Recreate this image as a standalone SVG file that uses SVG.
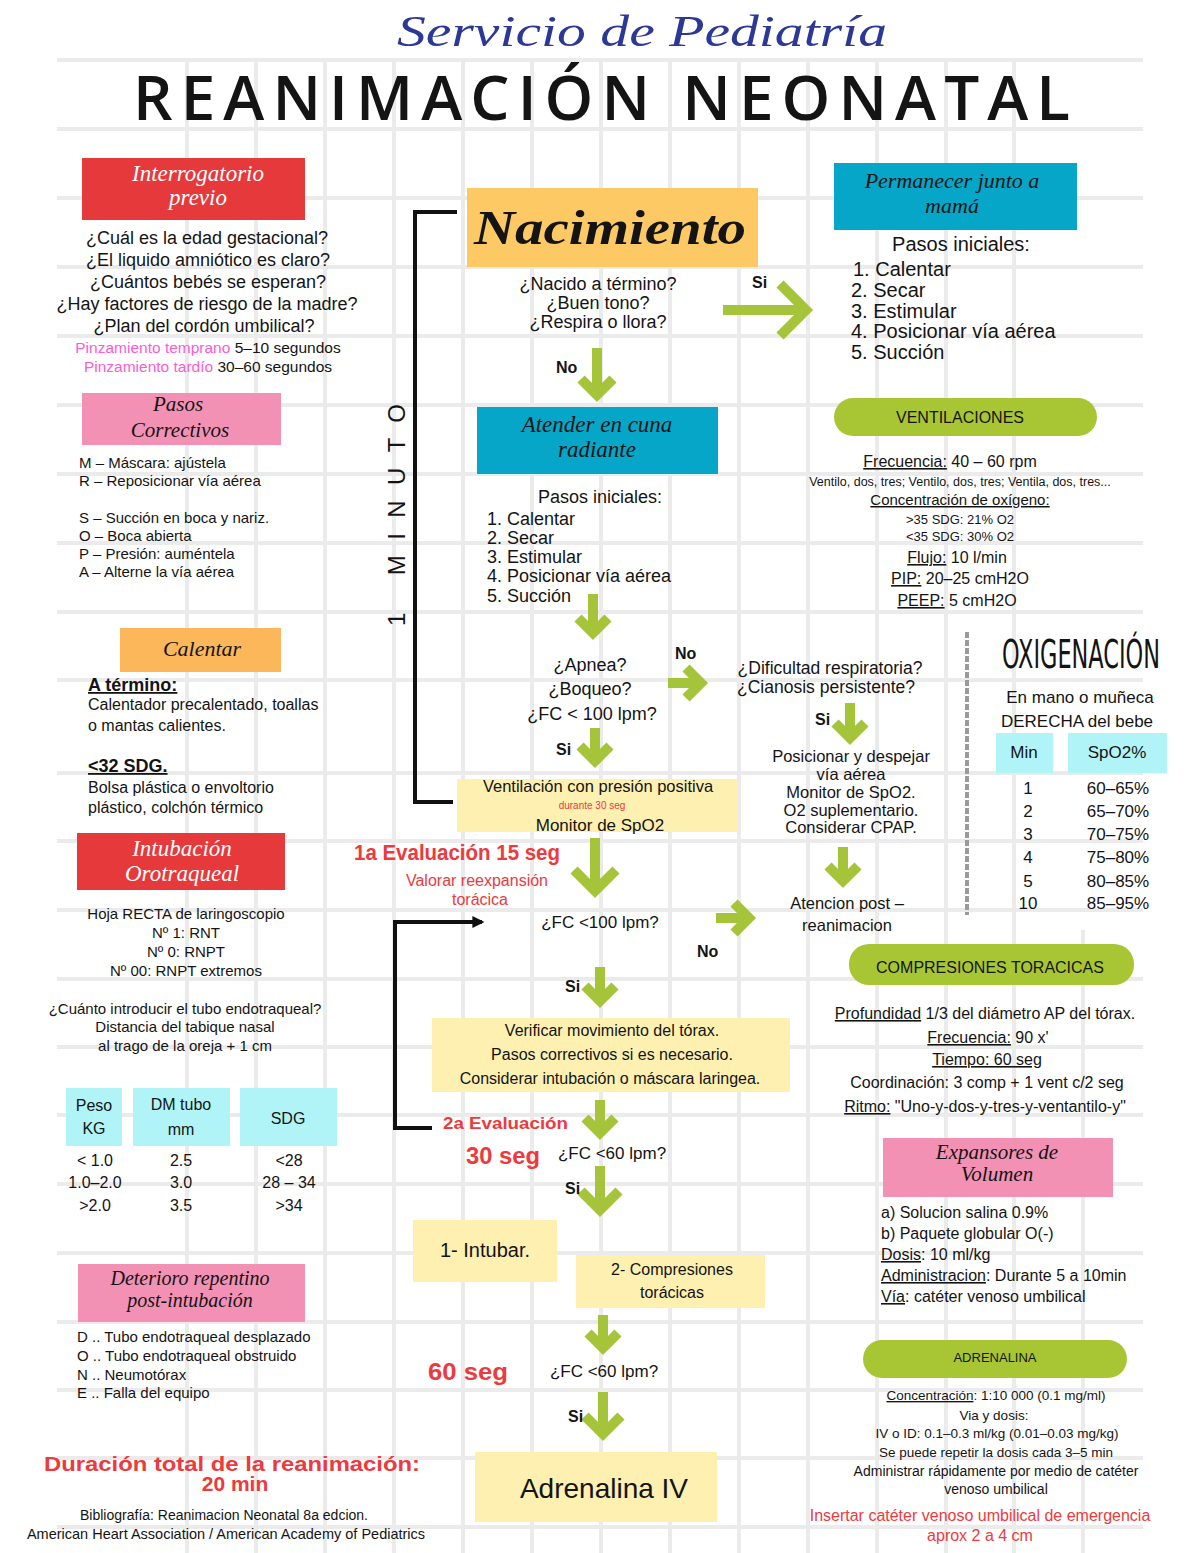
<svg xmlns="http://www.w3.org/2000/svg" width="1200" height="1553" viewBox="0 0 1200 1553">
<defs>
<style>
text{font-family:"Liberation Sans",Arial,sans-serif;fill:#141414}
.c{text-anchor:middle}
.cur{font-family:"Liberation Serif","DejaVu Serif",serif;font-style:italic}
.w{fill:#fff}
.b{font-weight:bold}
.red{fill:#ec3a3e}
.u{text-decoration:underline}
.pk{fill:#ff5ccf}
.grid{stroke:#ebebeb;stroke-width:4;fill:none}
.ga{stroke:#a6c43a;fill:none;stroke-width:10;stroke-linejoin:miter}
.bk{stroke:#111;fill:none;stroke-width:4}
.redbox{fill:#e6393c}
.pinkbox{fill:#f391b4}
.bluebox{fill:#05a6c8}
.yel{fill:#fdf0b1}
.cy{fill:#b0f4f7}
.pill{fill:#a8c634}
</style>
<marker id="ah" viewBox="0 0 10 10" refX="8" refY="5" markerWidth="3" markerHeight="3" orient="auto"><path d="M0 0L10 5L0 10Z" fill="#111"/></marker>
</defs>
<rect width="1200" height="1553" fill="#fff"/>
<g id="grid">
<path class="grid" d="M57 60H1143M57 129H1143M57 198H1143M57 267H1143M57 336H1143M57 405H1143M57 474H1143M57 543H1143M57 612H1143M57 680H1143M57 773H1143M57 841H1143M57 910H1143M57 979H1143M57 1047H1143M57 1115H1143M57 1184H1143M57 1253H1143M57 1322H1143M57 1390H1143M57 1458H1143M57 1527H1143"/>
<path class="grid" d="M187 60V1553M256 60V1553M325 60V1553M394 60V1553M463 60V1553M532 60V1553M601 60V1553M670 60V1553M739 60V1553M808 60V1553M877 60V1553M946 60V1553M1014 60V1553M1083 930V1553"/>
</g>
<g id="header">
<text class="cur c" x="642" y="46" font-size="44" style="fill:#2c3896" textLength="490" lengthAdjust="spacingAndGlyphs">Servicio de Pediatría</text>
<text x="133" y="120" font-size="62" font-weight="600" textLength="937" lengthAdjust="spacing" style="font-family:'Open Sans','Liberation Sans',sans-serif">REANIMACIÓN NEONATAL</text>
</g>
<g id="interrogatorio">
<rect class="redbox" x="82" y="158" width="223" height="62"/>
<text class="cur c w" x="198" y="181" font-size="23">Interrogatorio</text>
<text class="cur c w" x="198" y="205" font-size="23">previo</text>
<text class="c" x="207" y="244" font-size="18">¿Cuál es la edad gestacional?</text>
<text class="c" x="208" y="266" font-size="18">¿El liquido amniótico es claro?</text>
<text class="c" x="208" y="288" font-size="18">¿Cuántos bebés se esperan?</text>
<text class="c" x="207" y="310" font-size="18">¿Hay factores de riesgo de la madre?</text>
<text class="c" x="204" y="332" font-size="18">¿Plan del cordón umbilical?</text>
<text class="c" x="208" y="353" font-size="15.5"><tspan class="pk">Pinzamiento temprano</tspan> 5–10 segundos</text>
<text class="c" x="208" y="372" font-size="15.5"><tspan class="pk">Pinzamiento tardío</tspan> 30–60 segundos</text>
</g>
<g id="pasos-correctivos">
<rect class="pinkbox" x="82" y="393" width="199" height="52"/>
<text class="cur c" x="178" y="411" font-size="21">Pasos</text>
<text class="cur c" x="180" y="437" font-size="21">Correctivos</text>
<text x="79" y="468" font-size="15">M – Máscara: ajústela</text>
<text x="79" y="486" font-size="15">R – Reposicionar vía aérea</text>
<text x="79" y="523" font-size="15">S – Succión en boca y nariz.</text>
<text x="79" y="541" font-size="15">O – Boca abierta</text>
<text x="79" y="559" font-size="15">P – Presión: auméntela</text>
<text x="79" y="577" font-size="15">A – Alterne la vía aérea</text>
</g>
<g id="calentar">
<rect x="120" y="628" width="161" height="44" fill="#fcb75a"/>
<text class="cur c" x="202" y="656" font-size="22">Calentar</text>
<text class="b u" x="88" y="691" font-size="18">A término:</text>
<text x="88" y="710" font-size="16">Calentador precalentado, toallas</text>
<text x="88" y="731" font-size="16">o mantas calientes.</text>
<text class="b u" x="88" y="772" font-size="18">&lt;32 SDG.</text>
<text x="88" y="793" font-size="16">Bolsa plástica o envoltorio</text>
<text x="88" y="813" font-size="16">plástico, colchón térmico</text>
</g>
<g id="intubacion">
<rect class="redbox" x="77" y="833" width="208" height="57"/>
<text class="cur c w" x="182" y="856" font-size="23">Intubación</text>
<text class="cur c w" x="182" y="881" font-size="23">Orotraqueal</text>
<text class="c" x="186" y="919" font-size="15">Hoja RECTA de laringoscopio</text>
<text class="c" x="186" y="938" font-size="15">Nº 1: RNT</text>
<text class="c" x="186" y="957" font-size="15">Nº 0: RNPT</text>
<text class="c" x="186" y="976" font-size="15">Nº 00: RNPT extremos</text>
<text class="c" x="185" y="1014" font-size="15">¿Cuánto introducir el tubo endotraqueal?</text>
<text class="c" x="185" y="1032" font-size="15">Distancia del tabique nasal</text>
<text class="c" x="185" y="1051" font-size="15">al trago de la oreja + 1 cm</text>
</g>
<g id="tabla-tubo">
<rect class="cy" x="66" y="1088" width="56" height="58"/>
<rect class="cy" x="133" y="1088" width="97" height="58"/>
<rect class="cy" x="240" y="1088" width="97" height="58"/>
<text class="c" x="94" y="1111" font-size="16">Peso</text>
<text class="c" x="94" y="1134" font-size="16">KG</text>
<text class="c" x="181" y="1110" font-size="16">DM tubo</text>
<text class="c" x="181" y="1135" font-size="16">mm</text>
<text class="c" x="288" y="1124" font-size="16">SDG</text>
<text class="c" x="95" y="1166" font-size="16">&lt; 1.0</text>
<text class="c" x="95" y="1188" font-size="16">1.0–2.0</text>
<text class="c" x="95" y="1211" font-size="16">&gt;2.0</text>
<text class="c" x="181" y="1166" font-size="16">2.5</text>
<text class="c" x="181" y="1188" font-size="16">3.0</text>
<text class="c" x="181" y="1211" font-size="16">3.5</text>
<text class="c" x="289" y="1166" font-size="16">&lt;28</text>
<text class="c" x="289" y="1188" font-size="16">28 – 34</text>
<text class="c" x="289" y="1211" font-size="16">&gt;34</text>
</g>
<g id="deterioro">
<rect class="pinkbox" x="78" y="1264" width="227" height="58"/>
<text class="cur c" x="190" y="1285" font-size="20">Deterioro repentino</text>
<text class="cur c" x="190" y="1307" font-size="20">post-intubación</text>
<text x="77" y="1342" font-size="15">D .. Tubo endotraqueal desplazado</text>
<text x="77" y="1361" font-size="15">O .. Tubo endotraqueal obstruido</text>
<text x="77" y="1380" font-size="15">N .. Neumotórax</text>
<text x="77" y="1398" font-size="15">E .. Falla del equipo</text>
</g>
<g id="duracion">
<text class="c b red" x="232" y="1471" font-size="21" textLength="376" lengthAdjust="spacingAndGlyphs">Duración total de la reanimación:</text>
<text class="c b red" x="235" y="1491" font-size="21">20 min</text>
<text class="c" x="224" y="1520" font-size="14">Bibliografía: Reanimacion Neonatal 8a edcion.</text>
<text class="c" x="226" y="1539" font-size="14.5">American Heart Association / American Academy of Pediatrics</text>
</g>
<g id="minuto">
<text class="c" x="396" y="524" font-size="24" textLength="222" lengthAdjust="spacing" transform="rotate(-90 396 515)">1 MINUTO</text>
</g>
<g id="nacimiento">
<rect x="467" y="188" width="291" height="79" fill="#fdc964"/>
<text class="cur c b" x="610" y="244" font-size="48" textLength="272" lengthAdjust="spacingAndGlyphs">Nacimiento</text>
<text class="c" x="598" y="290" font-size="18">¿Nacido a término?</text>
<text class="c" x="598" y="309" font-size="18">¿Buen tono?</text>
<text class="c" x="598" y="328" font-size="18">¿Respira o llora?</text>
</g>
<g id="cuna-radiante">
<rect class="bluebox" x="477" y="407" width="241" height="67"/>
<text class="cur c" x="597" y="432" font-size="23">Atender en cuna</text>
<text class="cur c" x="597" y="457" font-size="23">radiante</text>
<text class="c" x="600" y="503" font-size="18">Pasos iniciales:</text>
<text x="487" y="525" font-size="18">1. Calentar</text>
<text x="487" y="544" font-size="18">2. Secar</text>
<text x="487" y="563" font-size="18">3. Estimular</text>
<text x="487" y="582" font-size="18">4. Posicionar vía aérea</text>
<text x="487" y="602" font-size="18">5. Succión</text>
</g>
<g id="apnea">
<text class="c" x="590" y="671" font-size="18">¿Apnea?</text>
<text class="c" x="590" y="695" font-size="18">¿Boqueo?</text>
<text class="c" x="592" y="720" font-size="18">¿FC &lt; 100 lpm?</text>
</g>
<g id="dificultad">
<text class="c" x="830" y="674" font-size="17.5">¿Dificultad respiratoria?</text>
<text class="c" x="826" y="693" font-size="17.5">¿Cianosis persistente?</text>
</g>
<g id="posicionar">
<text class="c" x="851" y="762" font-size="16.5">Posicionar y despejar</text>
<text class="c" x="851" y="780" font-size="16.5">vía aérea</text>
<text class="c" x="851" y="798" font-size="16.5">Monitor de SpO2.</text>
<text class="c" x="851" y="816" font-size="16.5">O2 suplementario.</text>
<text class="c" x="851" y="833" font-size="16.5">Considerar CPAP.</text>
</g>
<g id="atencion-post">
<text class="c" x="847" y="909" font-size="16.5">Atencion post –</text>
<text class="c" x="847" y="931" font-size="16.5">reanimacion</text>
</g>
<g id="vpp">
<rect class="yel" x="457" y="779" width="281" height="53"/>
<text class="c" x="598" y="792" font-size="16.5">Ventilación con presión positiva</text>
<text class="c red" x="592" y="809" font-size="10">durante 30 seg</text>
<text class="c" x="600" y="831" font-size="17">Monitor de SpO2</text>
</g>
<g id="eval1">
<text class="b red" x="354" y="860" font-size="22" textLength="206" lengthAdjust="spacingAndGlyphs">1a Evaluación 15 seg</text>
<text class="c red" x="477" y="886" font-size="16">Valorar reexpansión</text>
<text class="c red" x="480" y="905" font-size="16">torácica</text>
<text class="c" x="600" y="928" font-size="17">¿FC &lt;100 lpm?</text>
</g>
<g id="verificar">
<rect class="yel" x="432" y="1018" width="358" height="74"/>
<text class="c" x="612" y="1036" font-size="16">Verificar movimiento del tórax.</text>
<text class="c" x="612" y="1060" font-size="16">Pasos correctivos si es necesario.</text>
<text class="c" x="610" y="1084" font-size="16">Considerar intubación o máscara laringea.</text>
</g>
<g id="eval2">
<text class="b red" x="443" y="1129" font-size="17" textLength="125" lengthAdjust="spacingAndGlyphs">2a Evaluación</text>
<text class="b red" x="466" y="1164" font-size="23" textLength="74" lengthAdjust="spacingAndGlyphs">30 seg</text>
<text class="c" x="612" y="1159" font-size="17">¿FC &lt;60 lpm?</text>
</g>
<g id="intubar">
<rect class="yel" x="413" y="1220" width="144" height="62"/>
<text class="c" x="485" y="1257" font-size="20">1- Intubar.</text>
</g>
<g id="compresiones-box">
<rect class="yel" x="576" y="1255" width="189" height="53"/>
<text class="c" x="672" y="1275" font-size="16">2- Compresiones</text>
<text class="c" x="672" y="1298" font-size="16">torácicas</text>
</g>
<g id="eval3">
<text class="b red" x="428" y="1380" font-size="24" textLength="80" lengthAdjust="spacingAndGlyphs">60 seg</text>
<text class="c" x="604" y="1377" font-size="17">¿FC &lt;60 lpm?</text>
</g>
<g id="adrenalina-iv">
<rect class="yel" x="475" y="1452" width="242" height="70"/>
<text class="c" x="604" y="1498" font-size="28">Adrenalina IV</text>
</g>
<g id="permanecer">
<rect class="bluebox" x="834" y="163" width="243" height="67"/>
<text class="cur c" x="952" y="188" font-size="22">Permanecer junto a</text>
<text class="cur c" x="952" y="213" font-size="22">mamá</text>
<text class="c" x="961" y="251" font-size="20">Pasos iniciales:</text>
<text x="853" y="276" font-size="20">1. Calentar</text>
<text x="851" y="297" font-size="20">2. Secar</text>
<text x="851" y="318" font-size="20">3. Estimular</text>
<text x="851" y="338" font-size="20">4. Posicionar vía aérea</text>
<text x="851" y="359" font-size="20">5. Succión</text>
</g>
<g id="ventilaciones">
<rect class="pill" x="834" y="398" width="263" height="38" rx="19"/>
<text class="c" x="960" y="423" font-size="16">VENTILACIONES</text>
<text class="c" x="950" y="467" font-size="16"><tspan class="u">Frecuencia:</tspan> 40 – 60 rpm</text>
<text class="c" x="960" y="486" font-size="12.5">Ventilo, dos, tres; Ventilo, dos, tres; Ventila, dos, tres...</text>
<text class="c u" x="960" y="505" font-size="15">Concentración de oxígeno:</text>
<text class="c" x="960" y="524" font-size="13">&gt;35 SDG: 21% O2</text>
<text class="c" x="960" y="541" font-size="13">&lt;35 SDG: 30% O2</text>
<text class="c" x="957" y="563" font-size="16"><tspan class="u">Flujo:</tspan> 10 l/min</text>
<text class="c" x="960" y="584" font-size="16"><tspan class="u">PIP:</tspan> 20–25 cmH2O</text>
<text class="c" x="957" y="606" font-size="16"><tspan class="u">PEEP:</tspan> 5 cmH2O</text>
</g>
<g id="oxigenacion">
<path d="M967 632V915" stroke="#9a9a9a" stroke-width="4" stroke-dasharray="6 2" fill="none"/>
<text x="1002" y="393" font-size="23" textLength="158" lengthAdjust="spacingAndGlyphs" transform="scale(1 1.7)" style="font-family:'DejaVu Sans Condensed','Liberation Sans',sans-serif">OXIGENACIÓN</text>
<text class="c" x="1080" y="703" font-size="17">En mano o muñeca</text>
<text class="c" x="1077" y="727" font-size="17">DERECHA del bebe</text>
<rect class="cy" x="996" y="733" width="57" height="40"/>
<rect class="cy" x="1068" y="733" width="99" height="40"/>
<text class="c" x="1024" y="758" font-size="17">Min</text>
<text class="c" x="1117" y="758" font-size="17">SpO2%</text>
<text class="c" x="1028" y="794" font-size="17">1</text>
<text class="c" x="1028" y="817" font-size="17">2</text>
<text class="c" x="1028" y="840" font-size="17">3</text>
<text class="c" x="1028" y="863" font-size="17">4</text>
<text class="c" x="1028" y="887" font-size="17">5</text>
<text class="c" x="1028" y="909" font-size="17">10</text>
<text class="c" x="1118" y="794" font-size="17">60–65%</text>
<text class="c" x="1118" y="817" font-size="17">65–70%</text>
<text class="c" x="1118" y="840" font-size="17">70–75%</text>
<text class="c" x="1118" y="863" font-size="17">75–80%</text>
<text class="c" x="1118" y="887" font-size="17">80–85%</text>
<text class="c" x="1118" y="909" font-size="17">85–95%</text>
</g>
<g id="compresiones-toracicas">
<rect class="pill" x="849" y="944" width="285" height="41" rx="20"/>
<text class="c" x="990" y="973" font-size="16">COMPRESIONES TORACICAS</text>
<text class="c" x="985" y="1019" font-size="16"><tspan class="u">Profundidad</tspan> 1/3 del diámetro AP del tórax.</text>
<text class="c" x="988" y="1043" font-size="16"><tspan class="u">Frecuencia:</tspan> 90 x'</text>
<text class="c u" x="987" y="1065" font-size="16">Tiempo: 60 seg</text>
<text class="c" x="987" y="1088" font-size="16">Coordinación: 3 comp + 1 vent c/2 seg</text>
<text class="c" x="985" y="1112" font-size="16"><tspan class="u">Ritmo:</tspan> "Uno-y-dos-y-tres-y-ventantilo-y"</text>
</g>
<g id="expansores">
<rect class="pinkbox" x="883" y="1138" width="230" height="59"/>
<text class="cur c" x="997" y="1159" font-size="21">Expansores de</text>
<text class="cur c" x="997" y="1181" font-size="21">Volumen</text>
<text x="881" y="1218" font-size="16">a) Solucion salina 0.9%</text>
<text x="881" y="1239" font-size="16">b) Paquete globular O(-)</text>
<text x="881" y="1260" font-size="16"><tspan class="u">Dosis</tspan>: 10 ml/kg</text>
<text x="881" y="1281" font-size="16"><tspan class="u">Administracion</tspan>: Durante 5 a 10min</text>
<text x="881" y="1302" font-size="16"><tspan class="u">Vía</tspan>: catéter venoso umbilical</text>
</g>
<g id="adrenalina">
<rect class="pill" x="863" y="1340" width="264" height="38" rx="19"/>
<text class="c" x="995" y="1362" font-size="13">ADRENALINA</text>
<text class="c" x="996" y="1400" font-size="13.5"><tspan class="u">Concentración</tspan>: 1:10 000 (0.1 mg/ml)</text>
<text class="c" x="994" y="1420" font-size="13.5">Via y dosis:</text>
<text class="c" x="997" y="1438" font-size="13.5">IV o ID: 0.1–0.3 ml/kg (0.01–0.03 mg/kg)</text>
<text class="c" x="996" y="1457" font-size="13.5">Se puede repetir la dosis cada 3–5 min</text>
<text class="c" x="996" y="1476" font-size="14">Administrar rápidamente por medio de catéter</text>
<text class="c" x="996" y="1494" font-size="14">venoso umbilical</text>
<text class="c red" x="980" y="1521" font-size="16">Insertar catéter venoso umbilical de emergencia</text>
<text class="c red" x="980" y="1541" font-size="16">aprox 2 a 4 cm</text>
</g>
<g id="connectors">
<path class="bk" d="M457 212H415V802H453"/>
<path class="bk" d="M432 1128H395V922H482" marker-end="url(#ah)"/>
<path class="ga" stroke-width="15" d="M723 310H800M780 284L806 310L780 336"/>
<path class="ga" d="M597 348V390M581 379L597 395L613 379"/>
<path class="ga" d="M593 594V628M578 618L593 633L608 618"/>
<path class="ga" d="M595 728V756M580 746L595 761L610 746"/>
<path class="ga" d="M668 683H696M686 668L701 683L686 698"/>
<path class="ga" d="M850 703V733M835 723L850 738L865 723"/>
<path class="ga" d="M843 847V876M828 866L843 881L858 866"/>
<path class="ga" stroke-width="13" d="M595 838V885M574 870L595 891L616 870"/>
<path class="ga" d="M716 918H744M734 903L749 918L734 933"/>
<path class="ga" d="M600 967V996M585 986L600 1001L615 986"/>
<path class="ga" d="M600 1100V1128M585 1118L600 1133L615 1118"/>
<path class="ga" stroke-width="12" d="M600 1166V1205M581 1191L600 1210L619 1191"/>
<path class="ga" d="M603 1315V1343M588 1333L603 1348L618 1333"/>
<path class="ga" stroke-width="12" d="M603 1392V1429M585 1416L603 1434L621 1416"/>
<text class="b" x="752" y="288" font-size="16">Si</text>
<text class="b" x="556" y="373" font-size="16">No</text>
<text class="b" x="675" y="659" font-size="16">No</text>
<text class="b" x="815" y="725" font-size="16">Si</text>
<text class="b" x="556" y="755" font-size="16">Si</text>
<text class="b" x="697" y="957" font-size="16">No</text>
<text class="b" x="565" y="992" font-size="16">Si</text>
<text class="b" x="565" y="1194" font-size="16">Si</text>
<text class="b" x="568" y="1422" font-size="16">Si</text>
</g>
</svg>
